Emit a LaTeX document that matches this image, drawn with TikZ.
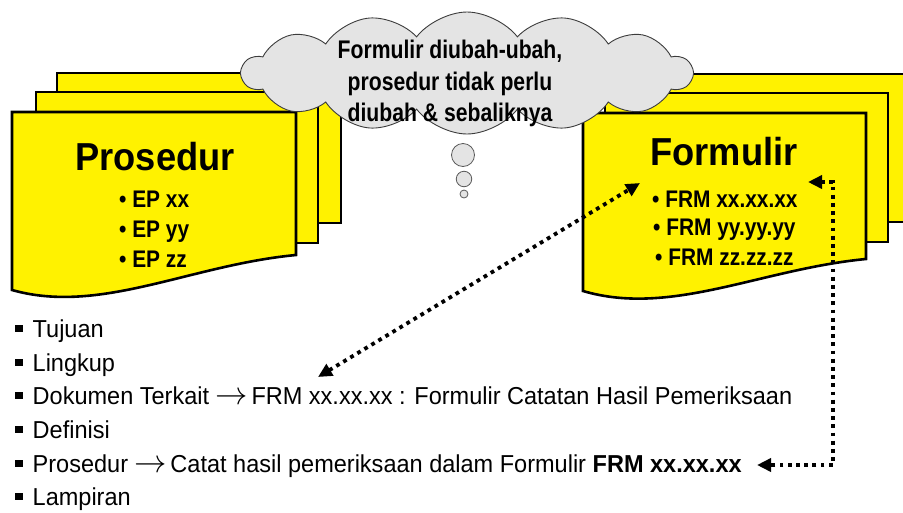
\documentclass[tikz,border=0pt]{standalone}
\usepackage{fontspec}
\usepackage{graphicx}
\setmainfont{Liberation Sans}
\newfontfamily\titlefont{Liberation Sans}[FakeStretch=0.93]
\newfontfamily\itemfont{Liberation Sans}[FakeStretch=0.87]
\newfontfamily\narrowfont{Liberation Sans}[FakeStretch=0.83]
\newfontfamily\listfont{Liberation Sans}[FakeStretch=0.96]
\usetikzlibrary{shapes.symbols,arrows.meta}
\definecolor{cloudgray}{HTML}{E4E4E4}
\definecolor{cloudline}{HTML}{3C3C3C}
\definecolor{bubbleline}{HTML}{5A5A5A}
\newcommand{\sqbul}{\rule[5pt]{7.5pt}{7.5pt}\hspace{10pt}}
\newcommand{\rarr}{\hspace{6pt}\scalebox{1.3}[1.3]{$\rightarrow$}\hspace{4pt}}
\begin{document}
\begin{tikzpicture}[x=1pt,y=-1pt,
  sheet/.style={fill=yellow, draw=black, line width=2.6pt, line join=miter},
  titletext/.style={anchor=base, inner sep=0pt, font=\titlefont\bfseries\fontsize{39}{44}\selectfont},
  itemtext/.style={anchor=base west, inner sep=0pt, font=\itemfont\bfseries\fontsize{24}{28}\selectfont},
  cloudtext/.style={anchor=base, inner sep=0pt, font=\narrowfont\bfseries\fontsize{25.5}{30}\selectfont},
  listtext/.style={anchor=base west, inner sep=0pt, font=\listfont\fontsize{24.5}{28}\selectfont},
  bubble/.style={circle, draw=bubbleline, fill=cloudgray, line width=0.8pt, inner sep=0pt},
  dotarrow/.style={line width=3.8pt, dash pattern=on 3.8pt off 4.4pt,
    {Triangle[length=14pt,width=13pt]}-{Triangle[length=14pt,width=13pt]}}
]
\useasboundingbox (0,0) rectangle (903,512);

% Prosedur stack
\draw[sheet] (57,73) rectangle (341,223);
\draw[sheet] (36,92) rectangle (318,243);
\draw[sheet] (12,112) -- (296,112) -- (296,255) .. controls (190,265) and (100,315) .. (12,290) -- cycle;

% Formulir stack
\draw[sheet] (627,74) rectangle (911,222);
\draw[sheet] (605,93) rectangle (888,242);
\draw[sheet] (583,113) -- (866,113) -- (866,259) .. controls (761,269) and (671,317) .. (583,291) -- cycle;

% cloud
\node[cloud, cloud puffs=14, cloud puff arc=105, cloud ignores aspect,
      minimum width=450pt, minimum height=122pt, inner sep=0pt,
      fill=cloudgray, draw=cloudline, line width=0.9pt] (cloud) at (467,73) {};
\node[cloudtext] (c1) at (450,58) {Formulir diubah-ubah,};
\node[cloudtext] (c2) at (450,90) {prosedur tidak perlu};
\node[cloudtext] (c3) at (450,121) {diubah \& sebaliknya};

\node[bubble, minimum size=23pt] (b1) at (463,155) {};
\node[bubble, minimum size=15.5pt] (b2) at (464,179) {};
\node[bubble, minimum size=8pt] (b3) at (464,194) {};

% sheet texts
\node[titletext] (ptitle) at (155,170) {Prosedur};
\node[itemtext] (ep1) at (119,207) {• EP xx};
\node[itemtext] (ep2) at (119,237) {• EP yy};
\node[itemtext] (ep3) at (119,267) {• EP zz};

\node[titletext] (ftitle) at (724,165) {Formulir};
\node[itemtext] (frm1) at (652,207) {• FRM xx.xx.xx};
\node[itemtext] (frm2) at (653,235) {• FRM yy.yy.yy};
\node[itemtext] (frm3) at (655,265) {• FRM zz.zz.zz};

% list
\node[listtext] (l1) at (15,337) {\sqbul Tujuan};
\node[listtext] (l2) at (15,371) {\sqbul Lingkup};
\node[listtext] (l3) at (15,404) {\sqbul Dokumen Terkait\rarr FRM xx.xx.xx : Formulir Catatan Hasil Pemeriksaan};
\node[listtext] (l4) at (15,438) {\sqbul Definisi};
\node[listtext] (l5) at (15,472) {\sqbul Prosedur\rarr Catat hasil pemeriksaan dalam Formulir \textbf{FRM xx.xx.xx}};
\node[listtext] (l6) at (15,505) {\sqbul Lampiran};

% connectors
\coordinate (d1) at (318,377);
\coordinate (d2) at (640,183);
\draw[dotarrow] (d1) -- (d2);
\coordinate (e1) at (808,182);
\coordinate (e2) at (833,182);
\coordinate (e3) at (833,465);
\coordinate (e4) at (757,465);
\draw[dotarrow] (e1) -- (e2) -- (e3) -- (e4);
\end{tikzpicture}
\end{document}
